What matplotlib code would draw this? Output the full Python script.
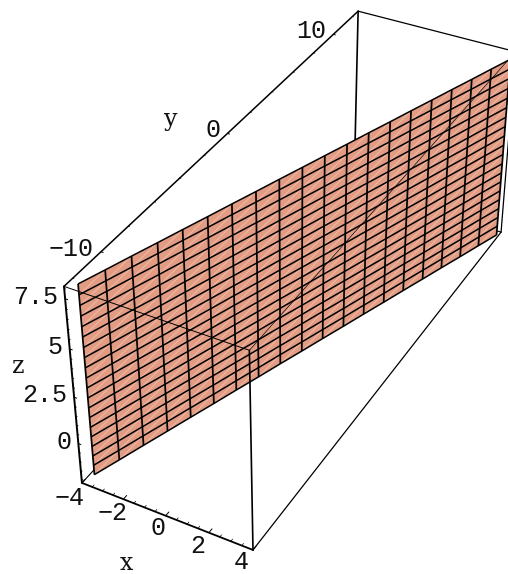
import matplotlib
matplotlib.use('Agg')
import matplotlib.pyplot as plt
from matplotlib.collections import PolyCollection, LineCollection
import numpy as np

### daten ###
surf_x = [-3.70, -3.29, -2.89, -2.48, -2.08, -1.67, -1.27, -0.86, -0.46, -0.05,
          0.35, 0.76, 1.16, 1.57, 1.97, 2.38, 2.78, 3.19, 3.59, 4.00]
surf_y = [-12.10, -10.83, -9.56, -8.29, -7.03, -5.76, -4.49, -3.22, -1.95, -0.68,
          0.58, 1.85, 3.12, 4.39, 5.66, 6.93, 8.19, 9.46, 10.73, 12.00]
surf_z = [-2.00, -1.47, -0.95, -0.42, 0.11, 0.63, 1.16, 1.68, 2.21, 2.74,
          3.26, 3.79, 4.32, 4.84, 5.37, 5.89, 6.42, 6.95, 7.47, 8.00]

x_ticks = [-4, -2, 0, 2, 4]
y_ticks = [-10, 0, 10]
z_ticks = [0, 2.5, 5, 7.5]
z_labels = ['0', '2.5', '5', '7.5']
x_minor = [-3.5, -3, -2.5, -1.5, -1, -0.5, 0.5, 1, 1.5, 2.5, 3, 3.5]
y_minor = [-12, -8, -6, -4, -2, 2, 4, 6, 8, 12]
z_minor = [-2, -1.5, -1, -0.5, 0.5, 1, 1.5, 2, 3, 3.5, 4, 4.5, 5.5, 6, 6.5, 7, 8]

x_lo, x_hi = -4, 4
y_lo, y_hi = -12.6, 12.6
z_lo, z_hi = -2.2, 8.1

# kamera: welt -> pixel, aus den ecken der box bestimmt
calib = [
    ((x_lo, y_lo, z_hi), (63, 286)),
    ((x_lo, y_lo, z_lo), (82, 483)),
    ((x_hi, y_lo, z_lo), (253, 550)),
    ((x_hi, y_lo, z_hi), (249, 350)),
    ((x_lo, y_hi, z_hi), (357, 11)),
    ((x_hi, y_hi, z_hi), (516, 52)),
    ((x_hi, y_hi, z_lo), (501, 232)),
    ((x_lo, -10, z_hi), (102, 252)),
    ((x_lo, 0, z_hi), (228, 134)),
    ((x_lo, 10, z_hi), (334, 34)),
]
rows = []
for (X, Y, Z), (u, v) in calib:
    rows.append([X, Y, Z, 1, 0, 0, 0, 0, -u*X, -u*Y, -u*Z, -u])
    rows.append([0, 0, 0, 0, X, Y, Z, 1, -v*X, -v*Y, -v*Z, -v])
P = np.linalg.svd(np.array(rows, float))[2][-1].reshape(3, 4)


def proj(x, y, z):
    h = P @ np.array([x, y, z, 1.0])
    return h[0] / h[2], h[1] / h[2]


fig = plt.figure(figsize=(5.08, 5.74), dpi=100)
ax = fig.add_axes([0, 0, 1, 1])
ax.set_xlim(0, 508)
ax.set_ylim(574, 0)
ax.axis('off')


def edge(a, b, lw=1.0, z=2):
    pa, pb = proj(*a), proj(*b)
    ax.plot([pa[0], pb[0]], [pa[1], pb[1]], color='k', lw=lw, zorder=z,
            solid_capstyle='round')


# hintere kanten (vom blatt verdeckt)
edge((x_lo, y_hi, z_hi), (x_lo, y_hi, z_lo), 1.2, 1)
edge((x_lo, y_lo, z_lo), (x_lo, y_hi, z_lo), 0.8, 1)
edge((x_lo, y_hi, z_lo), (x_hi, y_hi, z_lo), 0.8, 1)
edge((x_hi, y_lo, z_lo), (x_hi, y_hi, z_lo), 0.9, 1)
edge((x_hi, y_hi, z_lo), (x_hi, y_hi, z_hi), 0.9, 1)
edge((x_lo, y_hi, z_hi), (x_hi, y_hi, z_hi), 0.9, 1)

# blatt
polys, seams, mesh = [], [], []
n_s, n_z = len(surf_x), len(surf_z)
pts = [[proj(surf_x[i], surf_y[i], surf_z[j]) for j in range(n_z)] for i in range(n_s)]
for i in range(n_s - 1):
    for j in range(n_z - 1):
        polys.append([pts[i][j], pts[i+1][j], pts[i+1][j+1], pts[i][j+1]])
        seams.append([pts[i][j], pts[i+1][j+1]])
ax.add_collection(PolyCollection(polys, facecolor='#E39C84', edgecolor='none', zorder=3))
ax.add_collection(LineCollection(seams, colors='#F2C4B2', linewidths=0.5, zorder=3.1))
for i in range(n_s):
    mesh.append([pts[i][j] for j in range(n_z)])
ax.add_collection(LineCollection(mesh, colors='k', linewidths=1.25, zorder=4))
mesh = [[pts[i][j] for i in range(n_s)] for j in range(n_z)]
ax.add_collection(LineCollection(mesh, colors='k', linewidths=1.1, zorder=4))

# vordere kanten
edge((x_lo, y_lo, z_hi), (x_lo, y_lo, z_lo), 1.4, 5)
edge((x_lo, y_lo, z_lo), (x_hi, y_lo, z_lo), 1.3, 5)
edge((x_hi, y_lo, z_hi), (x_hi, y_lo, z_lo), 1.2, 5)
edge((x_lo, y_lo, z_hi), (x_lo, y_hi, z_hi), 1.1, 5)
edge((x_lo, y_lo, z_hi), (x_hi, y_lo, z_hi), 0.7, 5)
edge((x_hi, y_lo, z_hi), (x_hi, y_hi, z_hi), 0.5, 5)

# striche
for v in x_ticks:
    edge((v, y_lo, z_lo), (v, y_lo + 0.25, z_lo), 0.7, 5)
for v in x_minor:
    edge((v, y_lo, z_lo), (v, y_lo + 0.14, z_lo), 0.5, 5)
for v in y_ticks:
    edge((x_lo, v, z_hi), (x_lo + 0.1, v, z_hi), 0.7, 5)
for v in y_minor:
    edge((x_lo, v, z_hi), (x_lo + 0.06, v, z_hi), 0.5, 5)
for v in z_ticks:
    edge((x_lo, y_lo, v), (x_lo + 0.12, y_lo, v), 0.7, 5)
for v in z_minor:
    edge((x_lo, y_lo, v), (x_lo + 0.07, y_lo, v), 0.5, 5)

font = dict(family='Liberation Mono', fontsize=18, color='#111111', zorder=6)
letter = dict(family='DejaVu Serif', fontsize=17, color='#111111', zorder=6)
px = 72 / fig.dpi


def label(pos, txt, dx, dy, ha='center'):
    ax.annotate(txt, xy=pos, xytext=(dx * px, -dy * px), textcoords='offset points',
                ha=ha, va='center', **font)


x_off = [(-12, 15), (-11, 14), (-8, 12), (-11, 13), (-12, 12)]
for v, (dx, dy) in zip(x_ticks, x_off):
    label(proj(v, y_lo, z_lo), str(v).replace('-', '\u2212'), dx, dy)
for v in y_ticks:
    label(proj(x_lo, v, z_hi), str(v).replace('-', '\u2212'), -7, -3, ha='right')
for v, t in zip(z_ticks, z_labels):
    label(proj(x_lo, y_lo, v), t, -7, -2, ha='right')

ax.text(126, 570, 'x', ha='center', va='baseline', **letter)
ax.text(171, 126, 'y', ha='center', va='baseline', **letter)
ax.text(18, 373, 'z', ha='center', va='baseline', **letter)

fig.savefig('out.png', dpi=100)
